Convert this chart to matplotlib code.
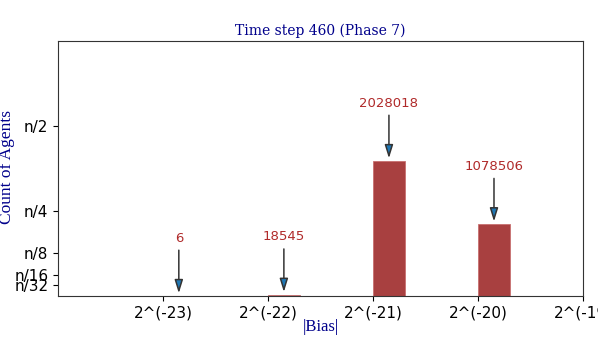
import matplotlib
matplotlib.use("Agg")
import matplotlib.pyplot as plt

# Data
exponents = [-23, -22, -21, -20]
counts = [6, 18545, 2028018, 1078506]
n_agents = 5.12e6
xtick_exps = [-23, -22, -21, -20, -19]
ytick_fracs = [32, 16, 8, 4, 2]
title = "Time step 460 (Phase 7)"

fig = plt.figure(figsize=(5.98, 3.39), dpi=100)
ax = fig.add_axes([0.097, 0.1268, 0.8784, 0.7537])

bar_w = 0.3
ax.bar(exponents, counts, width=bar_w, align="edge", color="#a84040", edgecolor="#c87070", linewidth=0.6)

for e, c in zip(exponents, counts):
    ax.annotate(str(c), xy=(e + bar_w / 2, c), xytext=(0, 37), textcoords="offset points",
                ha="center", va="bottom", fontsize=9.5, color="#b02a2a",
                arrowprops=dict(arrowstyle="-|>,head_length=0.8,head_width=0.25",
                                edgecolor="#333333", lw=1.1,
                                facecolor="#1f77b4", mutation_scale=10))

ax.set_xlim(-24, -19)
ax.set_ylim(0, 0.75 * n_agents)
ax.set_xticks(xtick_exps)
ax.set_xticklabels([f"2^({e})" for e in xtick_exps], fontsize=11)
ax.set_yticks([n_agents / d for d in ytick_fracs])
ax.set_yticklabels([f"n/{d}" for d in ytick_fracs], fontsize=11)

for s in ax.spines.values():
    s.set_color("#333333")

ax.set_title(title, family="DejaVu Serif", color="#00008B", fontsize=10, pad=4)
ax.set_ylabel("Count of Agents", family="Liberation Serif", color="#00008B", fontsize=12.5)
ax.yaxis.set_label_coords(-0.082, 0.505)
ax.set_xlabel("|Bias|", family="Liberation Serif", color="#00008B", fontsize=12, labelpad=-1)

fig.savefig("out.png", dpi=100)
